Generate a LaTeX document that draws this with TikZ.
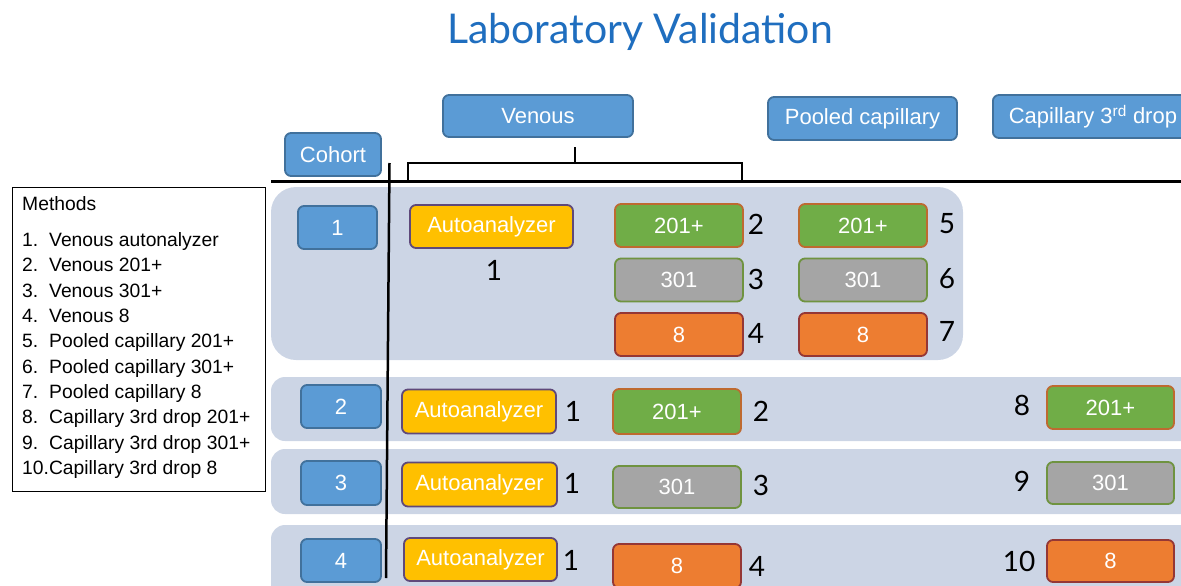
\documentclass[tikz,border=0pt]{standalone}
\usepackage{fontspec}
\setmainfont{Liberation Sans}
\newfontfamily\gillfont{Lato}
\usepackage{xcolor}
\usepackage{tikz}
\definecolor{titleblue}{HTML}{1F6EBF}
\definecolor{hdrblue}{HTML}{5B9BD5}
\definecolor{hdrborder}{HTML}{41719C}
\definecolor{panelgray}{HTML}{CCD5E5}
\definecolor{autofill}{HTML}{FFC000}
\definecolor{autoborder}{HTML}{5F497A}
\definecolor{greenfill}{HTML}{70AD47}
\definecolor{greenborder}{HTML}{BE6A30}
\definecolor{grayfill}{HTML}{A5A5A5}
\definecolor{grayborder}{HTML}{6F9340}
\definecolor{orangefill}{HTML}{ED7D31}
\definecolor{orangeborder}{HTML}{953735}
\newcommand{\mnum}[1]{\makebox[27pt][l]{#1}}
\tikzset{
  line/.style={draw=black, line width=2.5pt},
  panel/.style={fill=panelgray},
  box/.style={rounded corners=6pt, line width=1.8pt, inner sep=0pt, text=white,
    font=\fontsize{22}{24}\selectfont},
  hdr/.style={box, draw=hdrborder, fill=hdrblue},
  auto/.style={box, draw=autoborder, fill=autofill, minimum height=44pt},
  green/.style={box, draw=greenborder, fill=greenfill, minimum width=128pt, minimum height=43pt},
  grey/.style={box, draw=grayborder, fill=grayfill, minimum width=128pt, minimum height=43pt},
  orange/.style={box, draw=orangeborder, fill=orangefill, minimum width=128pt, minimum height=43pt},
  num/.style={font=\gillfont\fontsize{28}{30}\selectfont},
  mtext/.style={font=\fontsize{19.3}{25.33}\selectfont, align=left, inner sep=0pt}
}

\begin{document}
\begin{tikzpicture}[x=1pt, y=-1pt]
  \useasboundingbox (0,0) rectangle (1181,586);
  \clip (0,0) rectangle (1181,586);

  \node[text=titleblue, font=\gillfont\fontsize{41}{44}\selectfont, anchor=base] (title) at (640,44) {Laboratory Validation};

  % panels behind the rows
  \fill[panel, rounded corners=25pt] (271,187) rectangle (963,360);
  \fill[panel, rounded corners=14pt] (271,377) rectangle (1200,441);
  \fill[panel, rounded corners=14pt] (271,449) rectangle (1200,514);
  \fill[panel, rounded corners=14pt] (271,525) rectangle (1200,610);

  % headers
  \node[hdr, minimum width=96pt, minimum height=43pt] (cohort) at (333,154.5) {Cohort};
  \node[hdr, minimum width=190pt, minimum height=42pt] (venous) at (538,116) {Venous};
  \node[hdr, minimum width=189pt, minimum height=43pt] (pooled) at (862.5,118.5) {Pooled capillary};
  \node[hdr, minimum width=200pt, minimum height=43pt, anchor=west] (third) at (992,116.5) {Capillary 3\textsuperscript{rd} drop};

  % axes
  \coordinate (hl) at (271,181);
  \coordinate (hr) at (1181,181);
  \coordinate (vt) at (389.5,163);
  \coordinate (vb) at (386,578);
  \draw[line, line width=3pt] (hl) -- (hr);
  \draw[line] (vt) -- (vb);

  % bracket under Venous
  \coordinate (bl) at (408,181);
  \coordinate (br) at (742,163);
  \coordinate (bt) at (575,147);
  \draw[line, line width=2.2pt] (bl) |- (br) -- (742,181);
  \draw[line, line width=2.2pt] (bt) -- (575,163);

  % methods list
  \draw[line width=0.8pt] (12,187) rectangle (265,491);
  \node[mtext, anchor=north west] (methods) at (22,196) {Methods\\[11pt]
    \mnum{1.}Venous autonalyzer\\
    \mnum{2.}Venous 201+\\
    \mnum{3.}Venous 301+\\
    \mnum{4.}Venous 8\\
    \mnum{5.}Pooled capillary 201+\\
    \mnum{6.}Pooled capillary 301+\\
    \mnum{7.}Pooled capillary 8\\
    \mnum{8.}Capillary 3rd drop 201+\\
    \mnum{9.}Capillary 3rd drop 301+\\
    10.Capillary 3rd drop 8};

  % cohort 1
  \node[hdr, minimum width=79pt, minimum height=43pt] (c1) at (337.5,227.5) {1};
  \node[auto, minimum width=163pt, minimum height=43pt] (a1) at (491.5,226.5) {Autoanalyzer};
  \node[green] (v201) at (679,225.5) {201+};
  \node[grey] (v301) at (679,280) {301};
  \node[orange] (v8) at (679,334.5) {8};
  \node[green] (p201) at (863,225.5) {201+};
  \node[grey] (p301) at (863,280) {301};
  \node[orange] (p8) at (863,334.5) {8};
  \node[num] (n1a) at (494,270) {1};
  \node[num] (n2a) at (756,224) {2};
  \node[num] (n3a) at (756,279) {3};
  \node[num] (n4a) at (756,333) {4};
  \node[num] (n5) at (947,224) {5};
  \node[num] (n6) at (947,279) {6};
  \node[num] (n7) at (947,331) {7};

  % cohort 2
  \node[hdr, minimum width=80pt, minimum height=43pt] (c2) at (341,406.5) {2};
  \node[auto, minimum width=154pt] (a2) at (479,411.5) {Autoanalyzer};
  \node[green, minimum height=45pt] (v201b) at (677,411.5) {201+};
  \node[green, minimum width=127pt] (t201) at (1110.5,407.5) {201+};
  \node[num] (n1b) at (573,411) {1};
  \node[num] (n2b) at (761,411) {2};
  \node[num] (n8) at (1022,405) {8};

  % cohort 3
  \node[hdr, minimum width=80pt, minimum height=44pt] (c3) at (341,483) {3};
  \node[auto, minimum width=155pt] (a3) at (479.5,484.5) {Autoanalyzer};
  \node[grey, minimum height=42pt] (v301c) at (677,487) {301};
  \node[grey, minimum width=127pt, minimum height=42pt] (t301) at (1110.5,483) {301};
  \node[num] (n1c) at (572,483) {1};
  \node[num] (n3c) at (761,485) {3};
  \node[num] (n9) at (1022,481) {9};

  % cohort 4
  \node[hdr, minimum width=80pt, minimum height=43pt] (c4) at (341,560.5) {4};
  \node[auto, minimum width=153pt, minimum height=43pt] (a4) at (480.5,559.5) {Autoanalyzer};
  \node[orange, minimum height=44pt] (v8d) at (677,566) {8};
  \node[orange, minimum width=127pt, minimum height=42pt] (t8) at (1110.5,561) {8};
  \node[num] (n1d) at (571,560) {1};
  \node[num] (n4d) at (757,566) {4};
  \node[num] (n10) at (1019,561) {10};
\end{tikzpicture}
\end{document}
